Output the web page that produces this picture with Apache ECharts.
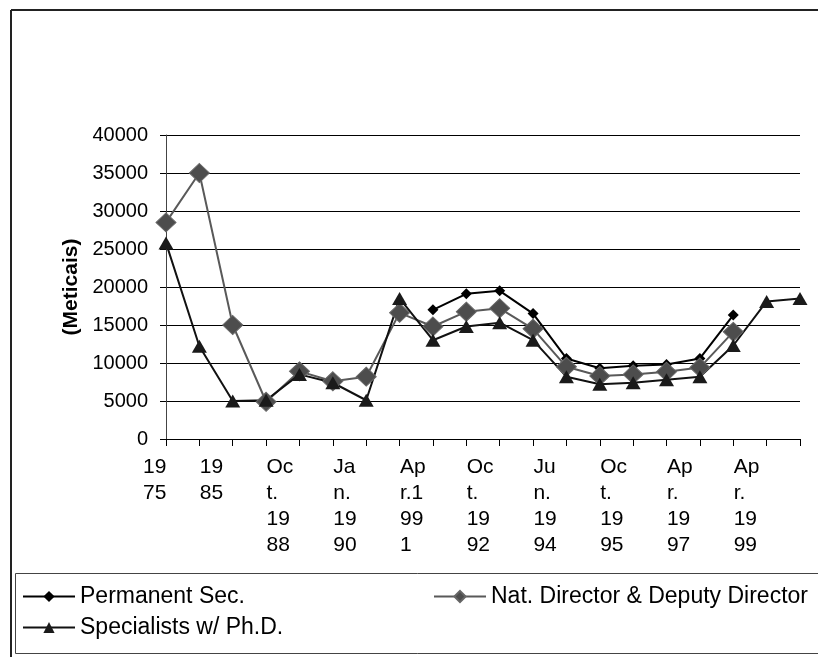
<!DOCTYPE html>
<html>
<head>
<meta charset="utf-8">
<script src="https://cdn.jsdelivr.net/npm/echarts@6/dist/echarts.min.js"></script>
<style>
  html, body { margin: 0; padding: 0; background: #fff; }
  #chart { width: 818px; height: 657px; }
</style>
</head>
<body>
<div id="chart"></div>
<script>
// category labels as they are wrapped on the axis (every other slot is unlabelled)
const categories = [
  '19\n75', '', '19\n85', '', 'Oc\nt.\n19\n88', '', 'Ja\nn.\n19\n90', '',
  'Ap\nr.1\n99\n1', '', 'Oc\nt.\n19\n92', '', 'Ju\nn.\n19\n94', '',
  'Oc\nt.\n19\n95', '', 'Ap\nr.\n19\n97', '', 'Ap\nr.\n19\n99', ''
]

const permanentSec = [null, null, null, null, null, null, null, null,
  17000, 19100, 19500, 16500, 10600, 9300, 9650, 9800, 10600, 16300, null, null]

const natDirector = [28500, 35000, 15000, 4900, 8900, 7600, 8200, 16600,
  14800, 16750, 17200, 14500, 9500, 8300, 8500, 8850, 9400, 14100, null, null]

const specialists = [25800, 12200, 5000, 5100, 8500, 7400, 5100, 18500,
  13000, 14800, 15300, 13000, 8200, 7200, 7400, 7800, 8200, 12300, 18100, 18500]

const yTicks = { min: 0, max: 40000, interval: 5000 }

const font = "'Liberation Sans', Arial, sans-serif"

const chart = echarts.init(document.getElementById('chart'))

const legendText = { fontFamily: font, fontSize: 23, color: '#000' }

const option = {
  animation: false,
  backgroundColor: '#fff',
  textStyle: { fontFamily: font, color: '#000' },
  grid: { left: 166, right: 18, top: 135, bottom: 218 },
  legend: [
    {
      left: 22, top: 585, padding: 0, itemWidth: 52, itemHeight: 14, itemGap: 5,
      data: ['Permanent Sec.'], textStyle: legendText
    },
    {
      left: 433, top: 585, padding: 0, itemWidth: 52, itemHeight: 14, itemGap: 5,
      data: ['Nat. Director & Deputy Director'], textStyle: legendText
    },
    {
      left: 22, top: 616, padding: 0, itemWidth: 52, itemHeight: 14, itemGap: 5,
      data: ['Specialists w/ Ph.D.'], textStyle: legendText
    }
  ],
  xAxis: {
    type: 'category',
    boundaryGap: false,
    data: categories,
    axisLine: { lineStyle: { color: '#000', width: 1 } },
    axisTick: { show: true, interval: 0, length: 7, lineStyle: { color: '#000' } },
    axisLabel: {
      interval: 0,
      margin: 15,
      align: 'center',
      formatter: function (value, index) {
        if (!value) return ''
        const s = index === 0 ? 'f' : 'a'
        return value.split('\n').map(t => '{' + s + '|' + t + '}').join('\n')
      },
      rich: {
        a: { width: 66, align: 'left', fontSize: 21, lineHeight: 26, fontFamily: font, color: '#000' },
        f: { width: 46, align: 'left', fontSize: 21, lineHeight: 26, fontFamily: font, color: '#000' }
      }
    }
  },
  yAxis: {
    type: 'value',
    min: yTicks.min,
    max: yTicks.max,
    interval: yTicks.interval,
    name: '(Meticais)',
    nameLocation: 'middle',
    nameGap: 40,
    nameRotate: 90,
    nameTextStyle: { fontFamily: font, fontSize: 21, fontWeight: 'bold', color: '#000' },
    axisLine: { show: true, lineStyle: { color: '#444', width: 1 } },
    axisTick: { show: true, length: 6, lineStyle: { color: '#000' } },
    axisLabel: {
      margin: 18, fontSize: 20, fontFamily: font, color: '#000',
      formatter: v => String(v)
    },
    splitLine: { show: true, lineStyle: { color: '#000', width: 1 } }
  },
  graphic: [
    { type: 'line', shape: { x1: 11, y1: 10, x2: 818, y2: 10 }, style: { stroke: '#222', lineWidth: 2 } },
    { type: 'line', shape: { x1: 11, y1: 10, x2: 11, y2: 657 }, style: { stroke: '#222', lineWidth: 2 } },
    { type: 'rect', shape: { x: 15.5, y: 573.5, width: 810, height: 80 }, style: { fill: 'none', stroke: '#444', lineWidth: 1 } }
  ],
  series: [
    {
      name: 'Permanent Sec.',
      type: 'line',
      data: permanentSec,
      symbol: 'diamond',
      symbolSize: 11,
      showAllSymbol: true,
      lineStyle: { color: '#000', width: 2 },
      itemStyle: { color: '#000' }
    },
    {
      name: 'Nat. Director & Deputy Director',
      type: 'line',
      data: natDirector,
      symbol: 'diamond',
      symbolSize: [20, 19],
      showAllSymbol: true,
      lineStyle: { color: '#595959', width: 2 },
      itemStyle: { color: '#4d4d4d', borderColor: '#666', borderWidth: 1 }
    },
    {
      name: 'Specialists w/ Ph.D.',
      type: 'line',
      data: specialists,
      symbol: 'triangle',
      symbolSize: [15, 13],
      showAllSymbol: true,
      lineStyle: { color: '#111', width: 2 },
      itemStyle: { color: '#1a1a1a' }
    }
  ]
}

chart.setOption(option)
</script>
</body>
</html>
